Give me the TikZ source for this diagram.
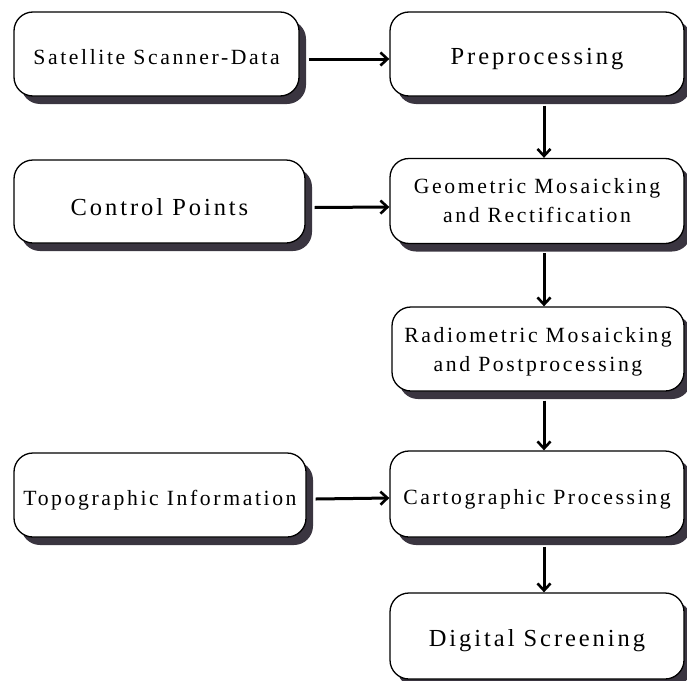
\documentclass[tikz,border=0pt]{standalone}
\usepackage{fontspec}
\setmainfont[LetterSpace=12]{Liberation Serif}
\usetikzlibrary{arrows.meta,shadows}
\definecolor{shadowc}{HTML}{3A3540}
\tikzset{
  box/.style={draw=black, line width=1.3pt, fill=white, rounded corners=19pt,
    align=center, font=\fontsize{21.7}{29}\selectfont, inner sep=0pt,
    drop shadow={shadow xshift=7pt, shadow yshift=-8pt, fill=shadowc, opacity=1}},
  oneline/.style={text height=20pt, text depth=0pt},
  bigtext/.style={font=\fontsize{24.5}{30}\selectfont, text height=21.5pt, text depth=0pt},
  arr/.style={line width=3pt, -{Straight Barb[length=7pt,width=13pt,line width=2.6pt]}}
}
\begin{document}
\begin{tikzpicture}[x=1pt,y=-1pt]
\useasboundingbox (0,0) rectangle (687,680);
\clip (0,0) rectangle (687,680);
\node[box, oneline, minimum width=285pt, minimum height=84pt] (sat) at (156.5,54) {Satellite Scanner-Data};
\node[box, bigtext, minimum width=294pt, minimum height=84pt] (pre) at (537,54) {Preprocessing};
\node[box, bigtext, text height=28pt, minimum width=291pt, minimum height=83pt] (ctl) at (159.5,201.5) {Control Points};
\node[box, minimum width=294pt, minimum height=85pt] (geo) at (537,201) {Geometric Mosaicking\\and Rectification};
\node[box, text depth=0pt, minimum width=292pt, minimum height=84pt] (rad) at (538,349) {Radiometric Mosaicking\\and Postprocessing};
\node[box, oneline, minimum width=292pt, minimum height=84pt] (top) at (160,495) {Topographic Information};
\node[box, oneline, minimum width=294pt, minimum height=86pt] (car) at (537,494) {Cartographic Processing};
\node[box, bigtext, minimum width=294pt, minimum height=86pt] (dig) at (537,636) {Digital Screening};
\draw[arr] ([xshift=9pt,yshift=-5pt]sat.east) -- ([yshift=-5pt]pre.west);
\draw[arr] ([xshift=9pt,yshift=-6pt]ctl.east) -- ([yshift=-6pt]geo.west);
\draw[arr] ([xshift=9pt,yshift=-4pt]top.east) -- ([yshift=-4pt]car.west);
\draw[arr] ([xshift=7pt,yshift=-9pt]pre.south) -- ([xshift=7pt]geo.north);
\draw[arr] ([xshift=7pt,yshift=-9pt]geo.south) -- ([xshift=6pt]rad.north);
\draw[arr] ([xshift=6pt,yshift=-9pt]rad.south) -- ([xshift=7pt]car.north);
\draw[arr] ([xshift=7pt,yshift=-9pt]car.south) -- ([xshift=7pt]dig.north);
\end{tikzpicture}
\end{document}
